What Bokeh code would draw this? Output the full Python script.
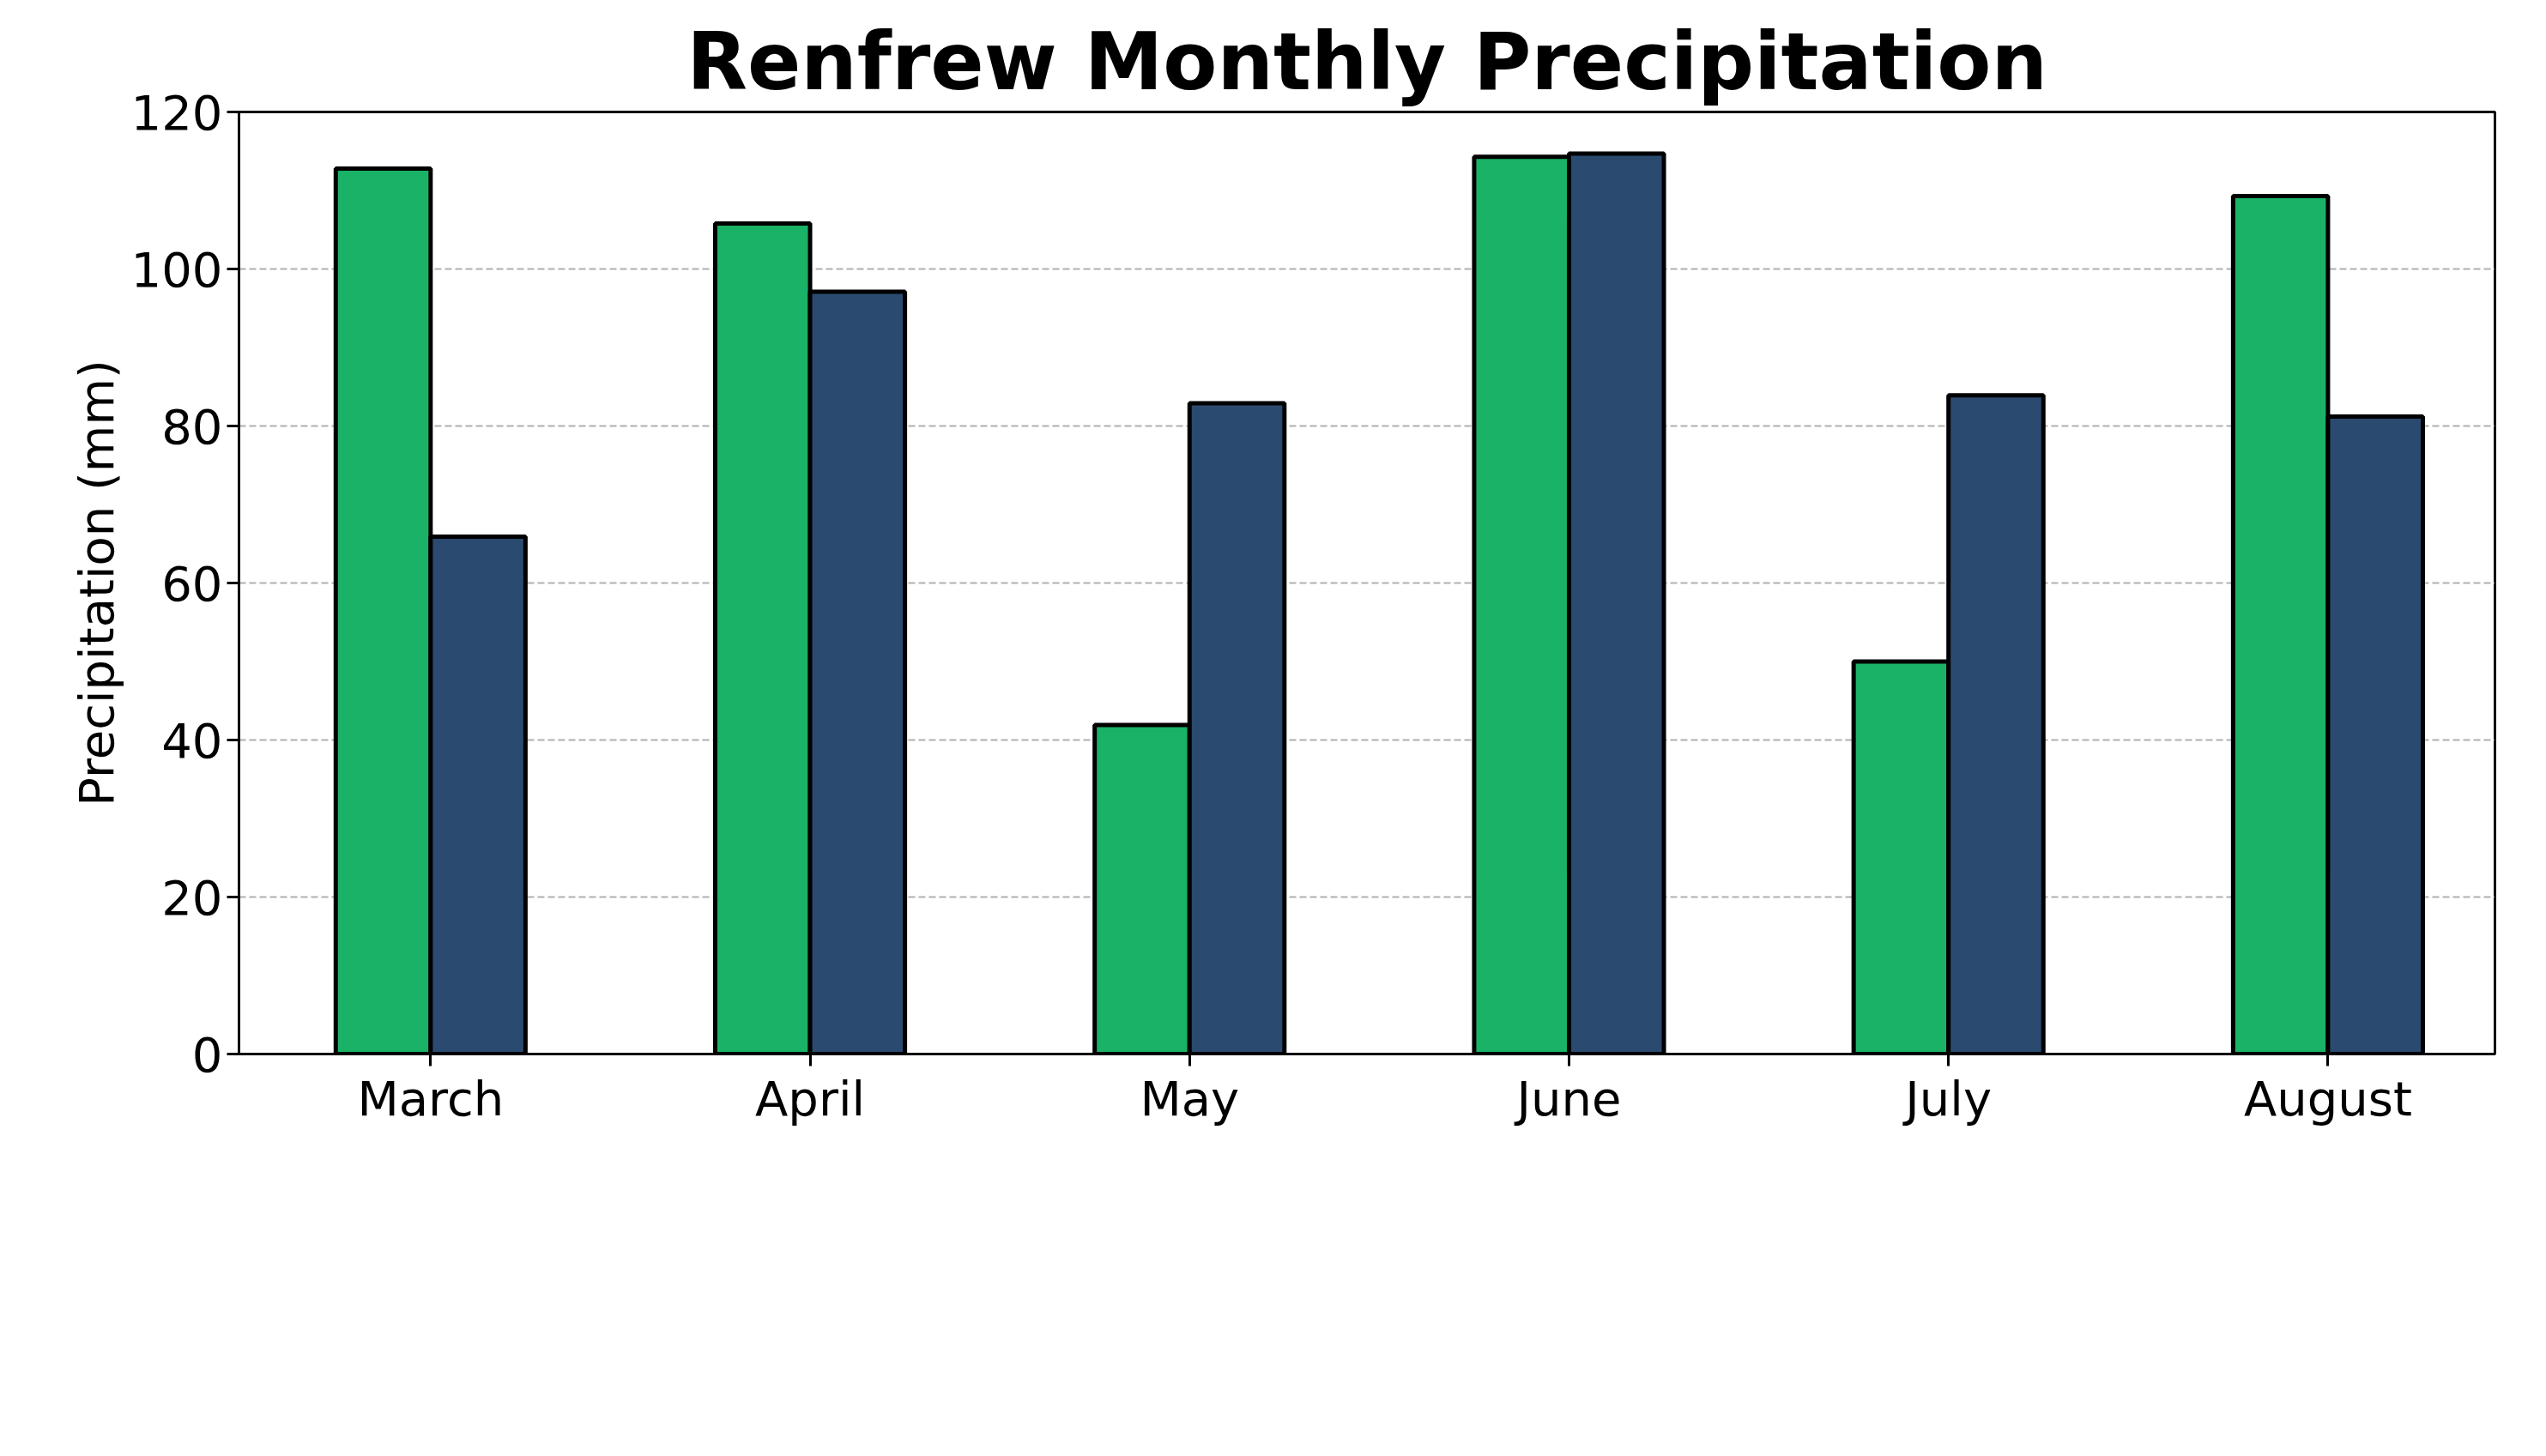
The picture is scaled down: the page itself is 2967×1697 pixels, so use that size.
from bokeh.plotting import figure
from bokeh.models import ColumnDataSource, Legend, LegendItem, FixedTicker, Range1d
from bokeh.embed import file_html
from bokeh.resources import INLINE

months = ["March", "April", "May", "June", "July", "August"]
y2026 = [112.8, 105.8, 41.9, 114.3, 50.0, 109.3]
avg10 = [65.9, 97.1, 82.9, 114.7, 83.9, 81.2]

xs = list(range(len(months)))
w = 0.25
p = figure(frame_width=2629, frame_height=1098, output_backend="svg", toolbar_location=None,
           x_range=Range1d(-0.505, 5.44), y_range=Range1d(0, 120),
           min_border_left=278, min_border_right=40, min_border_top=130, min_border_bottom=10)
src = ColumnDataSource(dict(xg=[x - w/2 for x in xs], xb=[x + w/2 for x in xs], g=y2026, b=avg10))
r1 = p.vbar(x="xg", top="g", width=w, source=src, fill_color="#1ab266", line_color="black", line_width=5)
r2 = p.vbar(x="xb", top="b", width=w, source=src, fill_color="#2b4a6f", line_color="black", line_width=5)

p.title.text = "Renfrew Monthly Precipitation"
p.title.text_font = "DejaVu Sans"
p.title.text_font_size = "92px"
p.title.text_font_style = "bold"
p.title.text_color = "black"
p.title.align = "center"
p.xaxis.ticker = FixedTicker(ticks=xs)
p.xaxis.major_label_overrides = {i: m for i, m in enumerate(months)}
p.yaxis.ticker = FixedTicker(ticks=[0, 20, 40, 60, 80, 100, 120])
p.yaxis.axis_label = "Precipitation (mm)"
for ax in (p.xaxis[0], p.yaxis[0]):
    ax.major_label_text_font = "DejaVu Sans"
    ax.major_label_text_font_size = "56px"
    ax.major_label_text_color = "black"
    ax.axis_label_text_font = "DejaVu Sans"
    ax.axis_label_text_font_size = "56px"
    ax.axis_label_text_font_style = "normal"
    ax.axis_label_text_color = "black"
    ax.axis_line_color = "black"
    ax.axis_line_width = 3
    ax.major_tick_line_width = 3
    ax.major_tick_out = 14
    ax.major_tick_in = 0
    ax.minor_tick_line_color = None
p.xgrid.grid_line_color = None
p.ygrid.grid_line_color = "#b0b0b0"
p.ygrid.grid_line_dash = "8 4"
p.ygrid.grid_line_width = 2
p.outline_line_color = "black"
p.outline_line_width = 3

leg = Legend(items=[LegendItem(label="2026", renderers=[r1]), LegendItem(label="10-Year Avg", renderers=[r2])],
             orientation="horizontal", location="center", label_text_font="DejaVu Sans",
             label_text_font_size="58px", label_text_color="black", glyph_width=140, glyph_height=50,
             spacing=130, padding=28, margin=100, border_line_color="#cccccc", border_line_width=3,
             label_standoff=55)
p.add_layout(leg, "below")

open("out.html", "w").write(file_html(p, INLINE))
